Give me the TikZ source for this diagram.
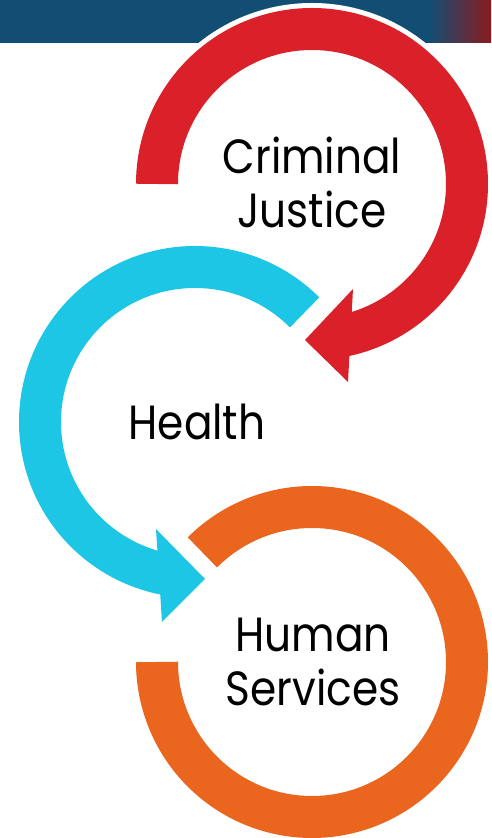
\documentclass[tikz,border=0pt]{standalone}
\usepackage{fontspec}
\setmainfont{Poppins}[FakeStretch=0.88]
\usetikzlibrary{calc}
\definecolor{redc}{RGB}{218,33,41}
\definecolor{bluec}{RGB}{29,198,228}
\definecolor{orangec}{RGB}{234,102,31}
\definecolor{barblue}{RGB}{18,78,115}
\definecolor{barred}{RGB}{140,26,31}
\tikzset{
  ring/.style={line width=42pt},
  label/.style={align=center, font=\fontsize{48}{54}\selectfont, text=black, inner sep=0pt}
}
\begin{document}
\begin{tikzpicture}[x=1pt,y=1pt]
\useasboundingbox (0,0) rectangle (491,838);
% top bar
\fill[barblue] (0,795) rectangle (430,838);
\shade[left color=barblue, right color=barred] (429,795) rectangle (491,838);
% centres
\coordinate (rc) at (312,654);
\coordinate (bc) at (195,416);
\coordinate (oc) at (312,176);
% white outline of red ring over the bar
\draw[white, line width=52pt] ($(rc)+(180:155)$) arc (180:0:155);
% red ring with arrow
\draw[redc, ring] ($(rc)+(180:155)$) arc (180:-78:155);
\coordinate (rh1) at (353,549);
\coordinate (rht) at (305,498);
\coordinate (rh2) at (348,456);
\fill[redc] (rh1) -- (rht) -- (rh2) -- cycle;
% blue ring with arrow
\draw[bluec, ring] ($(bc)+(45:155)$) arc (45:258.5:155);
\coordinate (bh1) at (156,309);
\coordinate (bht) at (205,259);
\coordinate (bh2) at (162,216);
\fill[bluec] (bh1) -- (bht) -- (bh2) -- cycle;
% orange ring
\draw[orangec, ring] ($(oc)+(135:155)$) arc (135:-180:155);
% labels
\node[label] (cj) at (312,656) {Criminal\\Justice};
\node[label] (he) at (197,416) {Health};
\node[label] (hs) at (313,176) {Human\\Services};
\end{tikzpicture}
\end{document}
